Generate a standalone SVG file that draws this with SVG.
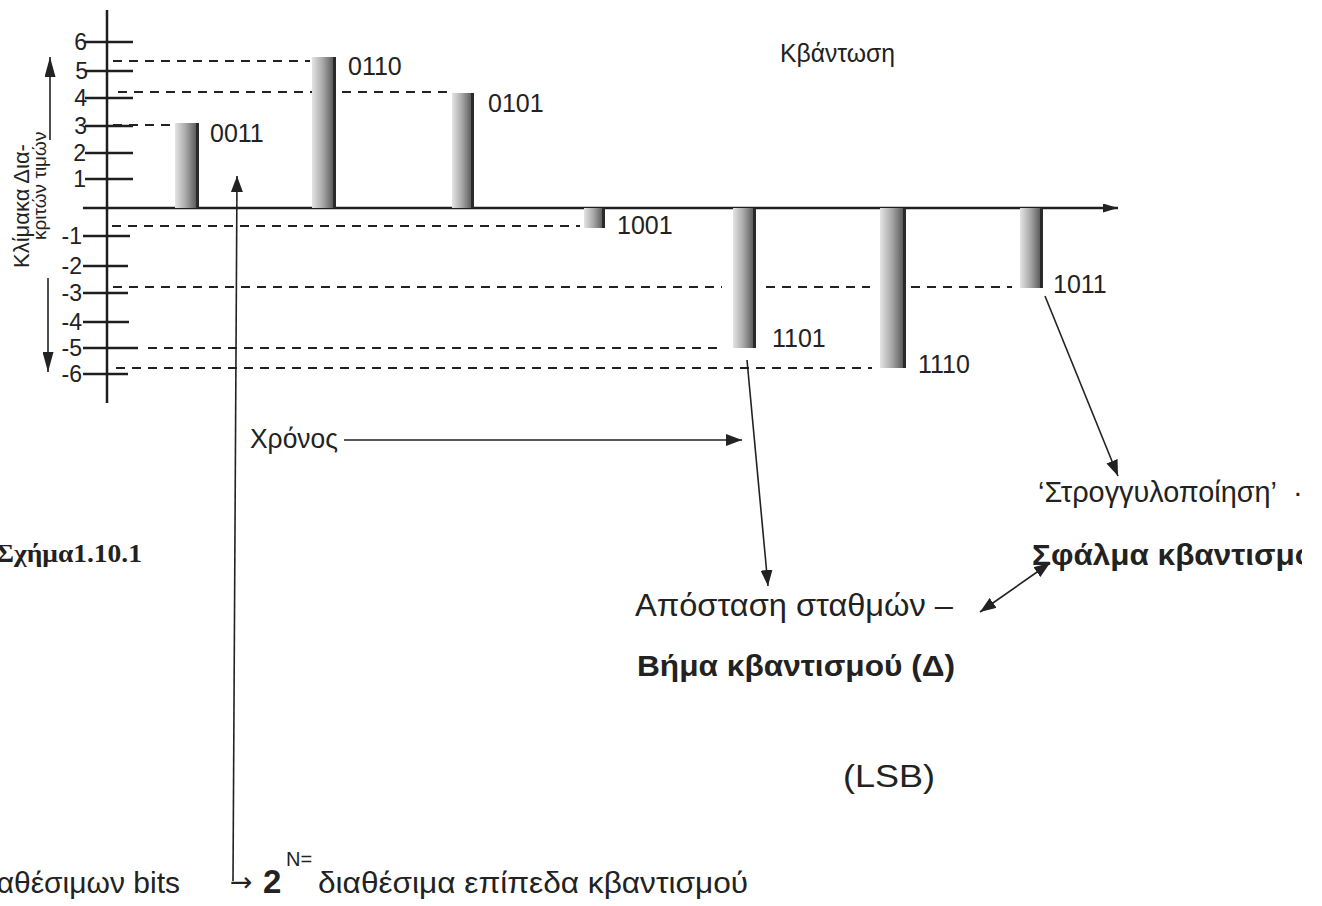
<svg xmlns="http://www.w3.org/2000/svg" width="1322" height="906" viewBox="0 0 1322 906">
<defs>
<linearGradient id="barg" x1="0" x2="1" y1="0" y2="0">
<stop offset="0" stop-color="#e4e4e4"/>
<stop offset="0.45" stop-color="#a8a8a8"/>
<stop offset="1" stop-color="#474747"/>
</linearGradient>
<marker id="ah" viewBox="0 0 16 12" refX="16" refY="6" markerWidth="16" markerHeight="12" markerUnits="userSpaceOnUse" orient="auto-start-reverse">
<path d="M0,0 L16,6 L0,12 z" fill="#222"/>
</marker>
<marker id="ahs" viewBox="0 0 15 9" refX="15" refY="4.5" markerWidth="15" markerHeight="9" markerUnits="userSpaceOnUse" orient="auto">
<path d="M0,0 L15,4.5 L0,9 z" fill="#222"/>
</marker>
<marker id="ahv" viewBox="0 0 20 11" refX="20" refY="5.5" markerWidth="20" markerHeight="11" markerUnits="userSpaceOnUse" orient="auto">
<path d="M0,0 L20,5.5 L0,11 z" fill="#222"/>
</marker>
<clipPath id="clipR"><rect x="0" y="0" width="1302" height="906"/></clipPath>
</defs>
<style>
.t{font-family:"Liberation Sans",Arial,sans-serif;fill:#222}
.code{font-size:25px}
.tick{font-size:23px;text-anchor:end}
.big{font-size:29px}
.b{font-weight:bold}
.ax{stroke:#1e1e1e;stroke-width:2.5;fill:none}
.tk{stroke:#1e1e1e;stroke-width:2.5}
.dash{stroke:#222;stroke-width:2.2;stroke-dasharray:9 7;fill:none}
.bar{fill:url(#barg)}
.edge{stroke:#2a2a2a;stroke-width:3}
.con{stroke:#222;stroke-width:1.6;fill:none}
</style>

<g id="title"><text class="t" x="780" y="62" font-size="25" textLength="115" lengthAdjust="spacingAndGlyphs">Κβάντωση</text></g>

<g id="axes">
<line class="ax" x1="107" y1="10" x2="107" y2="403"/>
<line class="ax" x1="83" y1="208" x2="1118" y2="208" marker-end="url(#ahs)"/>
</g>

<g id="ticks">
<line class="tk" x1="85" y1="42" x2="133" y2="42"/>
<line class="tk" x1="85" y1="71" x2="133" y2="71"/>
<line class="tk" x1="85" y1="98" x2="133" y2="98"/>
<line class="tk" x1="85" y1="126" x2="133" y2="126"/>
<line class="tk" x1="85" y1="153" x2="133" y2="153"/>
<line class="tk" x1="85" y1="179" x2="133" y2="179"/>
<line class="tk" x1="83" y1="236" x2="130" y2="236"/>
<line class="tk" x1="83" y1="266" x2="128" y2="266"/>
<line class="tk" x1="83" y1="293" x2="128" y2="293"/>
<line class="tk" x1="83" y1="322" x2="129" y2="322"/>
<line class="tk" x1="83" y1="348" x2="138" y2="348"/>
<line class="tk" x1="83" y1="374" x2="128" y2="374"/>
<text class="t tick" x="87" y="50">6</text>
<text class="t tick" x="88" y="79">5</text>
<text class="t tick" x="87" y="106">4</text>
<text class="t tick" x="87" y="134">3</text>
<text class="t tick" x="86" y="161">2</text>
<text class="t tick" x="86" y="187">1</text>
<text class="t tick" x="82" y="244">-1</text>
<text class="t tick" x="82" y="274">-2</text>
<text class="t tick" x="82" y="301">-3</text>
<text class="t tick" x="82" y="330">-4</text>
<text class="t tick" x="82" y="356">-5</text>
<text class="t tick" x="82" y="382">-6</text>
</g>

<g id="axis-label">
<text class="t" font-size="22" transform="translate(29,268) rotate(-90)">Κλίμακα Δια-</text>
<text class="t" font-size="19" transform="translate(46,240) rotate(-90)">κριτών τιμών</text>
<line class="con" x1="50" y1="140" x2="50" y2="57" stroke-width="2" marker-end="url(#ahv)"/>
<line class="con" x1="48" y1="278" x2="48" y2="372" stroke-width="2" marker-end="url(#ahv)"/>
</g>

<g id="levels">
<line class="dash" x1="113" y1="61" x2="310" y2="61"/>
<line class="dash" x1="118" y1="92" x2="450" y2="92"/>
<line class="dash" x1="113" y1="125" x2="170" y2="125"/>
<line class="dash" x1="112" y1="226" x2="580" y2="226"/>
<line class="dash" x1="113" y1="287" x2="722" y2="287"/>
<line class="dash" x1="766" y1="287" x2="870" y2="287"/>
<line class="dash" x1="911" y1="287" x2="1012" y2="287"/>
<line class="dash" x1="148" y1="348" x2="724" y2="348"/>
<line class="dash" x1="116" y1="368" x2="872" y2="368"/>
</g>

<g id="s0011"><rect class="bar" x="175" y="123" width="24" height="85"/><line class="edge" x1="197.5" y1="123" x2="197.5" y2="208"/><text class="t code" x="210" y="142">0011</text></g>
<g id="s0110"><rect class="bar" x="312" y="57" width="24" height="151"/><line class="edge" x1="334.5" y1="57" x2="334.5" y2="208"/><text class="t code" x="348" y="75">0110</text></g>
<g id="s0101"><rect class="bar" x="452" y="93" width="22" height="115"/><line class="edge" x1="472.5" y1="93" x2="472.5" y2="208"/><text class="t code" x="488" y="112">0101</text></g>
<g id="s1001"><rect class="bar" x="584" y="208" width="21" height="20"/><line class="edge" x1="603.5" y1="208" x2="603.5" y2="228"/><text class="t code" x="617" y="234">1001</text></g>
<g id="s1101"><rect class="bar" x="733" y="208" width="23" height="140"/><line class="edge" x1="754.5" y1="208" x2="754.5" y2="348"/><text class="t code" x="772" y="347">1101</text></g>
<g id="s1110"><rect class="bar" x="880" y="208" width="26" height="160"/><line class="edge" x1="904.5" y1="208" x2="904.5" y2="368"/><text class="t code" x="918" y="373">1110</text></g>
<g id="s1011"><rect class="bar" x="1020" y="208" width="23" height="80"/><line class="edge" x1="1041.5" y1="208" x2="1041.5" y2="288"/><text class="t code" x="1053" y="293">1011</text></g>

<g id="connectors">
<line class="con" x1="233" y1="881" x2="237" y2="176" marker-end="url(#ah)"/>
<line class="con" x1="344" y1="440" x2="742" y2="440" stroke-width="2.6" marker-end="url(#ah)"/>
<line class="con" x1="747" y1="360" x2="768" y2="586" marker-end="url(#ah)"/>
<line class="con" x1="1045" y1="296" x2="1118" y2="476" marker-end="url(#ah)"/>
<line class="con" x1="980" y1="612" x2="1050" y2="563" marker-start="url(#ah)" marker-end="url(#ah)"/>
</g>

<g id="time"><text class="t" x="250" y="448" font-size="28" textLength="88" lengthAdjust="spacingAndGlyphs">Χρόνος</text></g>

<g id="step">
<text class="t" x="635" y="616" font-size="31" textLength="318" lengthAdjust="spacingAndGlyphs">Απόσταση σταθμών –</text>
<text class="t b" x="637" y="676" font-size="29" textLength="318" lengthAdjust="spacingAndGlyphs">Βήμα κβαντισμού (Δ)</text>
<text class="t" x="843" y="787" font-size="32" textLength="92" lengthAdjust="spacingAndGlyphs">(LSB)</text>
</g>

<g id="rounding" clip-path="url(#clipR)">
<text class="t big" x="1038" y="502" textLength="239" lengthAdjust="spacingAndGlyphs">‘Στρογγυλοποίηση’</text>
<text class="t big" x="1293" y="502">·</text>
<text class="t big b" x="1032" y="565" font-size="30" textLength="282" lengthAdjust="spacingAndGlyphs">Σφάλμα κβαντισμο</text>
</g>

<g id="caption"><text x="-4" y="562" font-family="'Liberation Serif','Times New Roman',serif" font-weight="bold" font-size="26" fill="#222" textLength="146" lengthAdjust="spacingAndGlyphs">Σχήμα1.10.1</text></g>

<g id="levels-formula">
<text class="t" x="180" y="893" font-size="30" text-anchor="end">αθέσιμων bits</text>
<text x="230" y="891" font-family="'DejaVu Sans',sans-serif" font-size="27" fill="#222">→</text>
<text class="t b" x="263" y="893" font-size="33">2</text>
<text class="t" x="286" y="866" font-size="20">N=</text>
<text class="t" x="318" y="893" font-size="30" textLength="430" lengthAdjust="spacingAndGlyphs">διαθέσιμα επίπεδα κβαντισμού</text>
</g>
</svg>
